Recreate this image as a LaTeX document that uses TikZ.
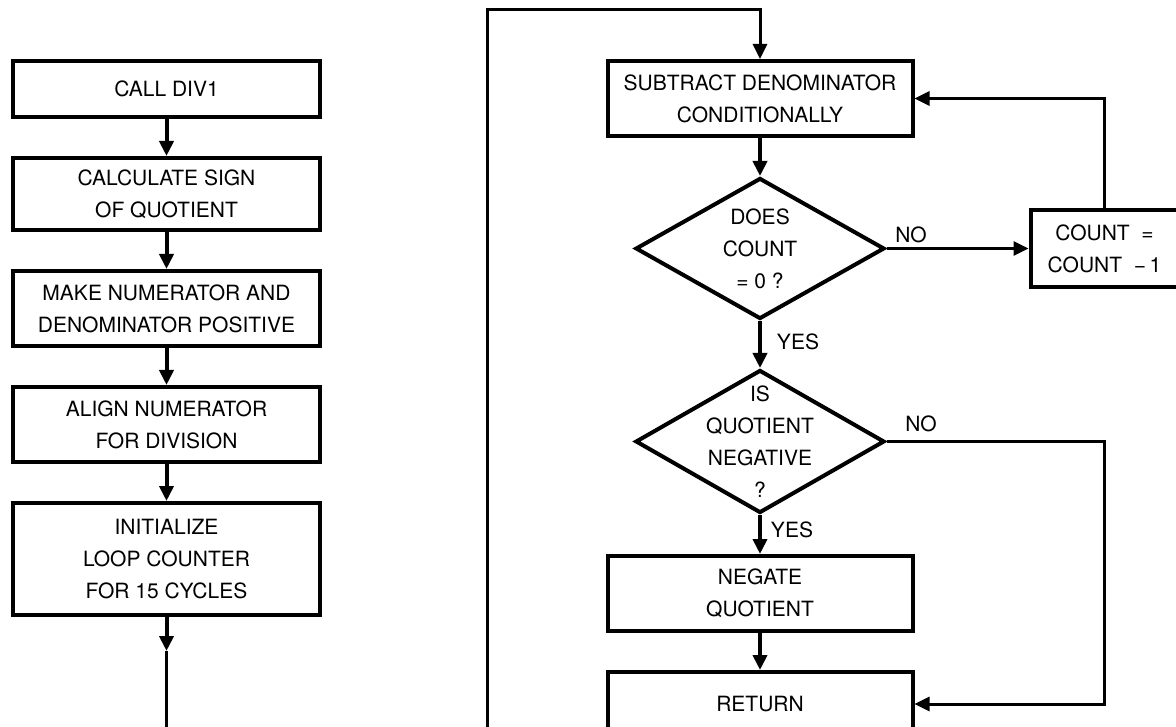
\documentclass[tikz,border=0pt]{standalone}
\usepackage{fontspec}
\setmainfont{TeX Gyre Heros}
\usetikzlibrary{arrows.meta,positioning,shapes.geometric}

\tikzset{
  procbox/.style={draw,line width=4pt,minimum width=307pt,align=center,inner sep=0pt},
  decbox/.style={draw,diamond,line width=4pt,minimum width=249pt,minimum height=141pt,inner sep=0pt},
  flow/.style={line width=4pt,-{Triangle[length=15pt,width=14pt]}},
  thinflow/.style={line width=3pt,-{Triangle[length=15pt,width=14pt]}},
  loopline/.style={line width=3pt},
  tag/.style={inner sep=0pt}
}

\begin{document}
\begin{tikzpicture}[x=1pt,y=-1pt,font=\fontsize{21}{32}\selectfont,node distance=37pt]
  \useasboundingbox (0,0) rectangle (1176,727);
  \clip (0,0) rectangle (1176,727);

  % set-up column
  \node[procbox,minimum height=56pt] (call) at (166.5,89) {CALL DIV1};
  \node[procbox,minimum height=72pt,below=of call] (sign) {CALCULATE SIGN\\OF QUOTIENT};
  \node[procbox,minimum height=75pt,below=of sign] (pos) {MAKE NUMERATOR AND\\DENOMINATOR POSITIVE};
  \node[procbox,minimum height=75pt,below=of pos] (align) {ALIGN NUMERATOR\\FOR DIVISION};
  \node[procbox,minimum height=112pt,below=of align] (init) {INITIALIZE\\LOOP COUNTER\\FOR 15 CYCLES};

  % division loop
  \node[procbox,minimum width=305pt,minimum height=75pt] (sub) at (760,98.5) {SUBTRACT DENOMINATOR\\CONDITIONALLY};
  \node[decbox,below=38pt of sub,label={[align=center]center:DOES\\COUNT\\= 0 ?}] (zero) {};
  \node[procbox,minimum width=148pt,minimum height=77pt,right=142pt of zero] (count) {COUNT~~=\\COUNT~~−\,1};
  \node[decbox,minimum height=143pt,below=47pt of zero,label={[align=center]center:IS\\QUOTIENT\\NEGATIVE\\?}] (sgn) {};
  \node[procbox,minimum width=305pt,minimum height=75pt,below=39pt of sgn] (neg) {NEGATE\\QUOTIENT};
  \node[procbox,minimum width=305pt,minimum height=64pt,below=37pt of neg] (ret) {RETURN};

  \node[tag] (nozero) at (911,235) {NO};
  \node[tag] (yeszero) at (798,342) {YES};
  \node[tag] (nosgn) at (921,424) {NO};
  \node[tag] (yessgn) at (792,530) {YES};

  \coordinate (tipa) at (166.5,651);
  \coordinate (lbot) at (166.5,740);
  \coordinate (rbot) at (487.5,740);
  \coordinate (looptop) at (487.5,10);

  \draw[flow] (call) -- (sign);
  \draw[flow] (sign) -- (pos);
  \draw[flow] (pos) -- (align);
  \draw[flow] (align) -- (init);
  \draw[flow] (init) -- (tipa);
  \draw[loopline] (tipa) -- (lbot);

  \draw[loopline,-{Triangle[length=15pt,width=14pt]}] (rbot) -- (looptop) -| (sub);
  \draw[flow] (sub) -- (zero);
  \draw[thinflow] (zero) -- (count);
  \draw[thinflow] (count) |- (sub);
  \draw[flow] (zero) -- (sgn);
  \draw[flow] (sgn) -- (neg);
  \draw[thinflow] (sgn.east) -- (sgn.east -| count) |- (ret);
  \draw[flow] (neg) -- (ret);
\end{tikzpicture}
\end{document}
